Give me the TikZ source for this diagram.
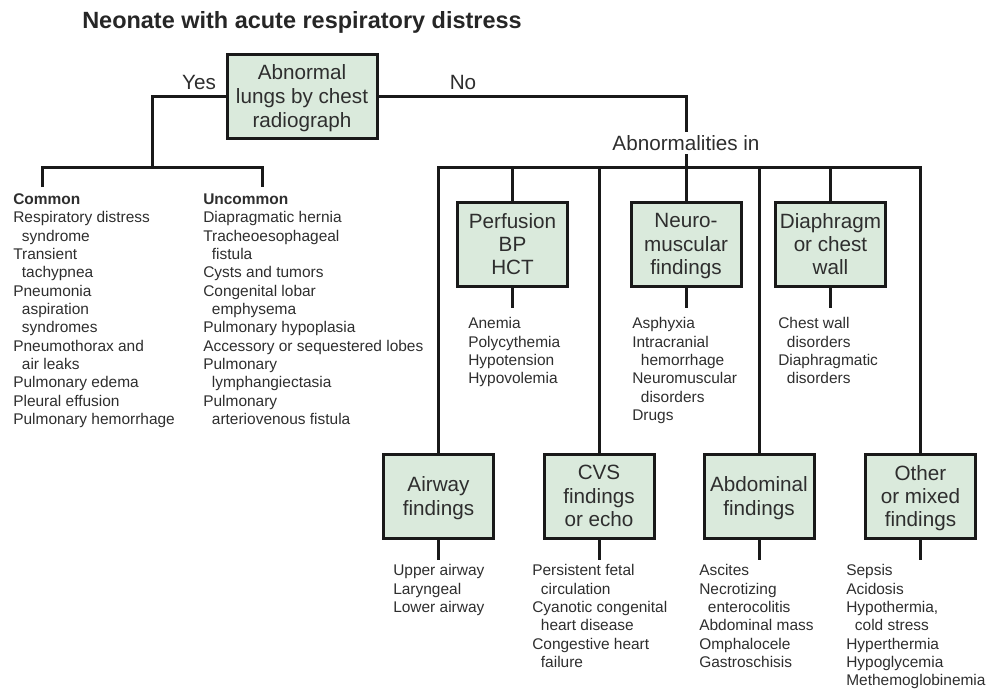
\documentclass[tikz,border=0pt]{standalone}
\usepackage{fontspec}
\setmainfont{Liberation Sans}
\definecolor{boxfill}{HTML}{DAEADC}
\definecolor{inkgray}{HTML}{2E2E2E}
\tikzset{
  finding/.style={draw=black!90, line width=2.25pt, fill=boxfill, text=inkgray, align=center, text depth=0pt,
    minimum width=82.5pt, minimum height=63pt, inner sep=0pt, font=\fontsize{15.5}{17.6}\selectfont},
  causes/.style={anchor=north west, align=left, inner sep=0pt, text=inkgray,
    font=\fontsize{11.6}{13.75}\selectfont},
  branch/.style={text=inkgray, inner sep=2.5pt, font=\fontsize{15.5}{18}\selectfont},
  link/.style={line width=2.25pt, black!90}
}
\newcommand{\indline}{\hspace*{6.5pt}}
\begin{document}
\begin{tikzpicture}[x=0.75pt,y=-0.75pt]
            \useasboundingbox (0,0) rectangle (992,690);
            %title
            \node[anchor=base west, inner sep=0pt, text=black!85, font=\fontsize{17.6}{20}\selectfont\bfseries] (title) at (82,28) {Neonate with acute respiratory distress};
            %chest radiograph
            \node[finding, minimum width=112.5pt, font=\fontsize{15.5}{18}\selectfont] (lungs) at (302,96.5) {Abnormal\\lungs by chest\\radiograph};
            \node[branch] (yes) at (199,82) {Yes};
            \node[branch] (no) at (463,82) {No};
            %
            %abnormal lungs
            \coordinate (yessplit) at (152,167);
            \coordinate (ctick) at (42,187);
            \coordinate (utick) at (262,187);
            \draw[link] (lungs.west) -| (yessplit);
            \draw[link] (ctick) |- (yessplit) -| (utick);
            \node[causes] (common) at (13,193.5) {\textbf{Common}\\Respiratory distress\\\indline syndrome\\Transient\\\indline tachypnea\\Pneumonia\\\indline aspiration\\\indline syndromes\\Pneumothorax and\\\indline air leaks\\Pulmonary edema\\Pleural effusion\\Pulmonary hemorrhage};
            \node[causes] (uncommon) at (203,193.5) {\textbf{Uncommon}\\Diapragmatic hernia\\Tracheoesophageal\\\indline fistula\\Cysts and tumors\\Congenital lobar\\\indline emphysema\\Pulmonary hypoplasia\\Accessory or sequestered lobes\\Pulmonary\\\indline lymphangiectasia\\Pulmonary\\\indline arteriovenous fistula};
            %
            %normal lungs
            \node[branch] (abn) at (686,143) {Abnormalities in};
            \draw[link] (lungs.east) -| (abn.north);
            \coordinate (bar) at (686,167);
            \draw[link] (abn.south) -- (bar);
            %upper row
            \node[finding] (perf) at (512.5,244) {Perfusion\\BP\\HCT};
            \node[finding] (neuro) at (686,244) {Neuro-\\muscular\\findings};
            \node[finding] (diaph) at (830.5,244) {Diaphragm\\or chest\\wall};
            %lower row
            \node[finding] (airway) at (438.5,496) {Airway\\findings};
            \node[finding] (cvs) at (599,496) {CVS\\findings\\or echo};
            \node[finding] (abdo) at (759,496) {Abdominal\\findings};
            \node[finding] (other) at (920.5,496) {Other\\or mixed\\findings};
            %
            \draw[link] (airway.north) |- (bar) -| (other.north);
            \foreach \b in {perf, neuro, diaph, cvs, abdo} {
                \draw[link] (\b.north) -- (\b.north |- bar);
            }
            \foreach \b in {perf, neuro, diaph, airway, cvs, abdo, other} {
                \draw[link] (\b.south) -- ++(0,20);
            }
            %
            %findings
            \node[causes] (perflist) at (468,317.5) {Anemia\\Polycythemia\\Hypotension\\Hypovolemia};
            \node[causes] (neurolist) at (632,317.5) {Asphyxia\\Intracranial\\\indline hemorrhage\\Neuromuscular\\\indline disorders\\Drugs};
            \node[causes] (diaphlist) at (778,317.5) {Chest wall\\\indline disorders\\Diaphragmatic\\\indline disorders};
            \node[causes] (airwaylist) at (393,564.5) {Upper airway\\Laryngeal\\Lower airway};
            \node[causes] (cvslist) at (532,564.5) {Persistent fetal\\\indline circulation\\Cyanotic congenital\\\indline heart disease\\Congestive heart\\\indline failure};
            \node[causes] (abdolist) at (699,564.5) {Ascites\\Necrotizing\\\indline enterocolitis\\Abdominal mass\\Omphalocele\\Gastroschisis};
            \node[causes] (otherlist) at (846,564.5) {Sepsis\\Acidosis\\Hypothermia,\\\indline cold stress\\Hyperthermia\\Hypoglycemia\\Methemoglobinemia};
\end{tikzpicture}
\end{document}
